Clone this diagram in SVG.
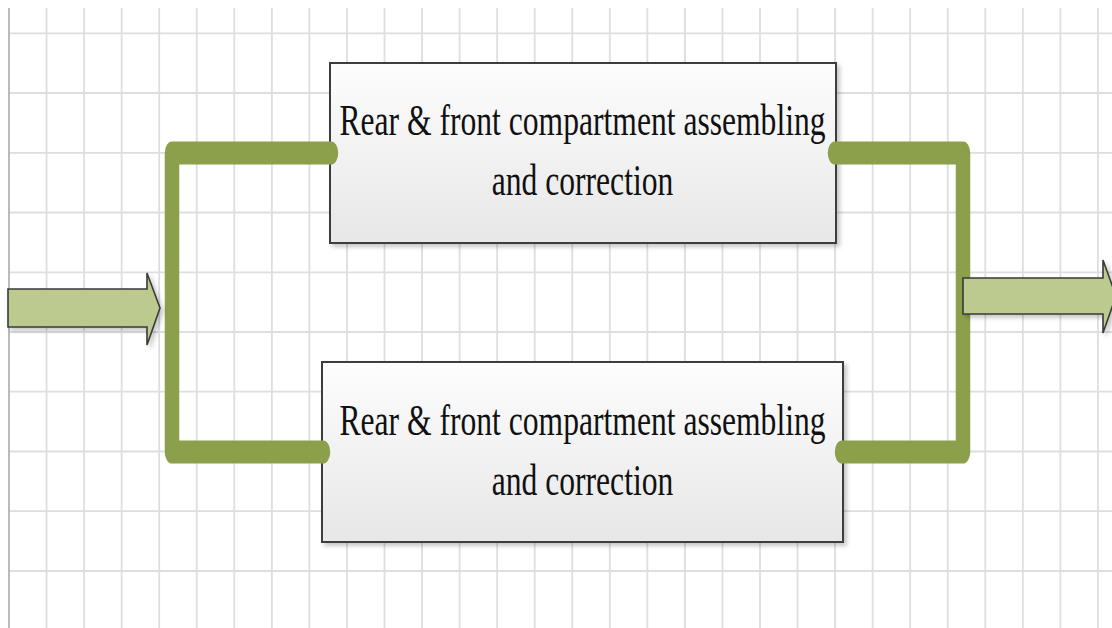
<svg xmlns="http://www.w3.org/2000/svg" width="1112" height="628" viewBox="0 0 1112 628">
  <defs>
    <linearGradient id="boxFill" x1="0" y1="0" x2="0" y2="1">
      <stop offset="0" stop-color="#fdfdfd"/>
      <stop offset="1" stop-color="#e7e7e7"/>
    </linearGradient>
    <filter id="softShadow" x="-5%" y="-5%" width="115%" height="125%">
      <feDropShadow dx="3" dy="3" stdDeviation="2" flood-color="#000" flood-opacity="0.22"/>
    </filter>
    <style>
      .grid { stroke: #dedede; stroke-width: 1.8; fill: none; }
      .edge { stroke: #b4b4b4; stroke-width: 1.8; fill: none; }
      .box { fill: url(#boxFill); stroke: #3c3c3c; stroke-width: 2; filter: url(#softShadow); }
      .label { font-family: "Liberation Serif", "Times New Roman", serif; font-size: 31.6px; fill: #111; text-anchor: middle; }
      .bracket { fill: none; stroke: #8c9f4b; stroke-width: 14.5; stroke-linecap: round; stroke-linejoin: round; }
      .arrow { fill: #bcc98f; stroke: #3a3a3a; stroke-width: 1.6; stroke-linejoin: miter; filter: url(#softShadow); }
    </style>
  </defs>

  <rect width="1112" height="628" fill="#fff"/>

  <!-- background grid -->
  <g id="grid">
    <path class="grid" d="M46.55,8V628 M84.1,8V628 M121.65,8V628 M159.2,8V628 M196.75,8V628 M234.3,8V628 M271.85,8V628 M309.4,8V628 M346.95,8V628 M384.5,8V628 M422.05,8V628 M459.6,8V628 M497.15,8V628 M534.7,8V628 M572.25,8V628 M609.8,8V628 M647.35,8V628 M684.9,8V628 M722.45,8V628 M760,8V628 M797.55,8V628 M835.1,8V628 M872.65,8V628 M910.2,8V628 M947.75,8V628 M985.3,8V628 M1022.85,8V628 M1060.4,8V628 M1097.95,8V628"/>
    <path class="grid" d="M9,33.3H1112 M9,93H1112 M9,152.8H1112 M9,212.5H1112 M9,272.3H1112 M9,332H1112 M9,391.7H1112 M9,451.5H1112 M9,511.2H1112 M9,571H1112"/>
    <path class="edge" d="M9,8V628"/>
  </g>

  <!-- upper process step -->
  <g id="step-upper">
    <rect class="box" x="330" y="63" width="506" height="180"/>
    <text class="label" transform="translate(582.5,135) scale(1,1.43)">Rear &amp; front compartment assembling</text>
    <text class="label" transform="translate(582.5,195) scale(1,1.43)">and correction</text>
  </g>

  <!-- lower process step -->
  <g id="step-lower">
    <rect class="box" x="322" y="362" width="521" height="180"/>
    <text class="label" transform="translate(582.5,435) scale(1,1.43)">Rear &amp; front compartment assembling</text>
    <text class="label" transform="translate(582.5,495) scale(1,1.43)">and correction</text>
  </g>

  <!-- connectors: split / merge brackets and flow arrows -->
  <g id="connectors">
    <g transform="scale(1,1.6)">
      <path class="bracket" d="M331,95.625H172V282.5H323"/>
      <path class="bracket" d="M835,95.625H963V282.5H842"/>
    </g>
    <polygon class="arrow" points="8,289 147,289 147,273 160,308 147,345 147,327 8,327"/>
    <polygon class="arrow" points="963,278 1103,278 1103,260 1116,296 1103,333 1103,314 963,314"/>
  </g>
</svg>
